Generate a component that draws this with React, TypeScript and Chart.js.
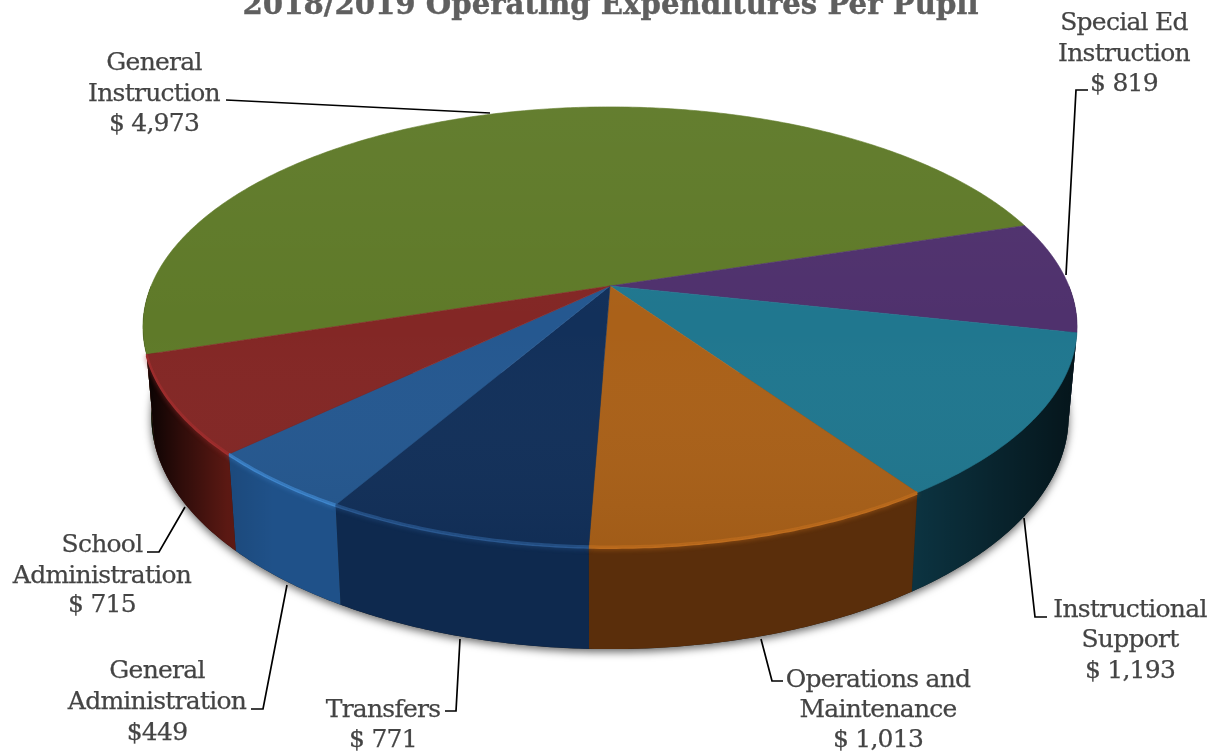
import React, { useEffect, useRef } from "react";
import { Chart, registerables } from "chart.js";

Chart.register(...registerables);

const titleText = "2018/2019 Operating Expenditures Per Pupil";
const categories = [
  ["General", "Instruction"],
  ["Special Ed", "Instruction"],
  ["Instructional", "Support"],
  ["Operations and", "Maintenance"],
  ["Transfers"],
  ["General", "Administration"],
  ["School", "Administration"],
];
const values = [4973, 819, 1193, 1013, 771, 449, 715];
const valueLabels = ["$ 4,973", "$ 819", "$ 1,193", "$ 1,013", "$ 771", "$449", "$ 715"];
const topColors = ["#5f7a29", "#4f316d", "#20778f", "#aa6119", "#12305a", "#255890", "#832725"];
const wallColors = ["#3a4a18", "#2a1a3c", "#0c3442", "#5a2e0b", "#0e294e", "#1f5189", "#651b15"];
// only the slices facing the viewer carry a highlight
const rimColors = [null, null, null, "#bd6c1e", "#2a5890", "#3f86cc", "#a02e2e"];

// label layout: centre x, baselines of each text line
const labelX = [154, 1124, 1130, 878, 383, 157, 102];
const labelY = [
  [70, 101, 131],
  [30, 61, 91],
  [617, 647, 678],
  [687, 717, 747],
  [717, 747],
  [678, 709, 740],
  [552, 583, 612],
];
const leaders = [
  [[226, 100], [490, 113]],
  [[1088, 90], [1076, 90], [1066, 275]],
  [[1024, 518], [1035, 617], [1047, 617]],
  [[761, 639], [772, 681], [783, 681]],
  [[460, 639], [456, 711], [445, 711]],
  [[287, 585], [263, 709], [251, 709]],
  [[185, 507], [159, 552], [147, 552]],
];

// perspective of the pie disc
const APEX_X = 610;
const APEX_Y = 286;
const RX = 458.9;
const RY = 212.4;
const K = 0.186;
const DEPTH = 87;
const SHRINK = 0.982;

const project = (a: number) => {
  const u = Math.cos(a);
  const v = Math.sin(a);
  const w = 1 - K * v;
  return { x: APEX_X + (RX * u) / w, y: APEX_Y + (RY * v) / w };
};
const projectBottom = (a: number) => {
  const u = Math.cos(a);
  const v = Math.sin(a);
  const w = 1 - K * v;
  return { x: APEX_X + (SHRINK * RX * u) / w, y: APEX_Y + (SHRINK * RY * v + DEPTH) / w };
};
const samples = (s: number, e: number) => {
  const n = Math.max(2, Math.ceil((e - s) / 0.01));
  const out: number[] = [];
  for (let i = 0; i <= n; i++) out.push(s + ((e - s) * i) / n);
  return out;
};
const frontRanges = (s: number, e: number) => {
  const out: [number, number][] = [];
  for (let k = -1; k <= 1; k++) {
    const lo = Math.max(s, 2 * Math.PI * k);
    const hi = Math.min(e, Math.PI + 2 * Math.PI * k);
    if (lo < hi) out.push([lo, hi]);
  }
  return out;
};

const pie3d = {
  id: "pie3d",
  beforeDatasetsDraw(chart: any) {
    const ctx: CanvasRenderingContext2D = chart.ctx;
    const arcs = chart.getDatasetMeta(0).data;

    // drop shadow under the disc
    ctx.save();
    ctx.shadowColor = "rgba(0,0,0,0.6)";
    ctx.shadowBlur = 9;
    ctx.shadowOffsetY = 3;
    ctx.fillStyle = "#222";
    ctx.beginPath();
    samples(0, Math.PI).forEach((a, i) => {
      const p = projectBottom(a);
      if (i === 0) ctx.moveTo(p.x, p.y);
      else ctx.lineTo(p.x, p.y);
    });
    ctx.closePath();
    ctx.fill();
    ctx.restore();

    // walls
    const shade = ctx.createLinearGradient(143, 0, 1077, 0);
    shade.addColorStop(0, "rgba(0,0,0,0.95)");
    shade.addColorStop(0.04, "rgba(0,0,0,0.55)");
    shade.addColorStop(0.09, "rgba(0,0,0,0.1)");
    shade.addColorStop(0.14, "rgba(0,0,0,0)");
    shade.addColorStop(0.82, "rgba(0,0,0,0)");
    shade.addColorStop(1, "rgba(0,0,0,0.6)");
    arcs.forEach((arc: any, i: number) => {
      frontRanges(arc.startAngle, arc.endAngle).forEach(([lo, hi]) => {
        const as = samples(lo, hi);
        ctx.beginPath();
        as.forEach((a, j) => {
          const p = project(a);
          if (j === 0) ctx.moveTo(p.x, p.y);
          else ctx.lineTo(p.x, p.y);
        });
        as.slice().reverse().forEach((a) => {
          const p = projectBottom(a);
          ctx.lineTo(p.x, p.y);
        });
        ctx.closePath();
        ctx.fillStyle = wallColors[i];
        ctx.fill();
        ctx.fillStyle = shade;
        ctx.fill();
      });
    });

    // bright soft rim on the front edge
    arcs.forEach((arc: any, i: number) => {
      const rim = rimColors[i];
      if (!rim) return;
      frontRanges(arc.startAngle, arc.endAngle).forEach(([lo, hi]) => {
        ctx.save();
        ctx.beginPath();
        samples(lo, hi).forEach((a, j) => {
          const p = project(a);
          if (j === 0) ctx.moveTo(p.x, p.y + 1);
          else ctx.lineTo(p.x, p.y + 1);
        });
        ctx.strokeStyle = rim;
        ctx.shadowColor = rim;
        ctx.shadowBlur = 5;
        ctx.lineWidth = 2;
        ctx.stroke();
        ctx.restore();
      });
    });

    // top face
    arcs.forEach((arc: any) => {
      ctx.beginPath();
      ctx.moveTo(APEX_X, APEX_Y);
      samples(arc.startAngle, arc.endAngle).forEach((a) => {
        const p = project(a);
        ctx.lineTo(p.x, p.y);
      });
      ctx.closePath();
      ctx.fillStyle = arc.options.backgroundColor;
      ctx.strokeStyle = arc.options.backgroundColor;
      ctx.lineWidth = 0.6;
      ctx.fill();
      ctx.stroke();
    });
    const sheen = ctx.createLinearGradient(0, 107, 0, 547);
    sheen.addColorStop(0, "rgba(255,255,255,0.03)");
    sheen.addColorStop(0.5, "rgba(255,255,255,0)");
    sheen.addColorStop(1, "rgba(0,0,0,0.05)");
    ctx.beginPath();
    samples(0, 2 * Math.PI).forEach((a, i) => {
      const p = project(a);
      if (i === 0) ctx.moveTo(p.x, p.y);
      else ctx.lineTo(p.x, p.y);
    });
    ctx.closePath();
    ctx.fillStyle = sheen;
    ctx.fill();

    // soft highlight just inside the front edge
    arcs.forEach((arc: any, i: number) => {
      const rim = rimColors[i];
      if (!rim) return;
      frontRanges(arc.startAngle, arc.endAngle).forEach(([lo, hi]) => {
        ctx.save();
        ctx.beginPath();
        samples(lo, hi).forEach((a, j) => {
          const p = project(a);
          if (j === 0) ctx.moveTo(p.x, p.y - 0.5);
          else ctx.lineTo(p.x, p.y - 0.5);
        });
        ctx.globalAlpha = 0.75;
        ctx.strokeStyle = rim;
        ctx.lineWidth = 2;
        ctx.stroke();
        ctx.restore();
      });
    });
    return false;
  },
  afterDraw(chart: any) {
    const ctx: any = chart.ctx;
    ctx.save();
    ctx.textAlign = "center";
    ctx.textBaseline = "alphabetic";
    ctx.fillStyle = "#5f5f5f";
    ctx.strokeStyle = "#5f5f5f";
    ctx.lineWidth = 0.4;
    ctx.font = 'bold 29.2px "DejaVu Serif"';
    ctx.fillText(titleText, 610.5, 14);
    ctx.strokeText(titleText, 610.5, 14);

    ctx.fillStyle = "#444444";
    ctx.strokeStyle = "#444444";
    ctx.lineWidth = 0.25;
    ctx.font = '25px "DejaVu Serif"';
    ctx.letterSpacing = "-0.75px";
    categories.forEach((lines, i) => {
      [...lines, valueLabels[i]].forEach((line, j) => {
        ctx.fillText(line, labelX[i], labelY[i][j]);
        ctx.strokeText(line, labelX[i], labelY[i][j]);
      });
    });
    ctx.letterSpacing = "0px";

    ctx.strokeStyle = "#000";
    ctx.lineWidth = 1.7;
    leaders.forEach((pts) => {
      ctx.beginPath();
      pts.forEach(([x, y], j) => {
        if (j === 0) ctx.moveTo(x, y);
        else ctx.lineTo(x, y);
      });
      ctx.stroke();
    });
    ctx.restore();
  },
};

export default function App() {
  const ref = useRef<HTMLCanvasElement>(null);
  useEffect(() => {
    const chart = new Chart(ref.current as HTMLCanvasElement, {
      type: "pie",
      data: {
        labels: categories.map((c) => c.join(" ")),
        datasets: [{ data: values, backgroundColor: topColors, borderWidth: 0 }],
      },
      options: {
        animation: false,
        responsive: false,
        rotation: -107.7,
        plugins: { legend: { display: false }, tooltip: { enabled: false } },
      },
      plugins: [pie3d],
    } as any);
    return () => chart.destroy();
  }, []);
  return (
    <div style={{ position: "absolute", left: 0, top: 0, width: 1215, height: 754, overflow: "hidden", background: "#fff" }}>
      <canvas ref={ref} width={1215} height={754} style={{ display: "block" }} />
    </div>
  );
}
